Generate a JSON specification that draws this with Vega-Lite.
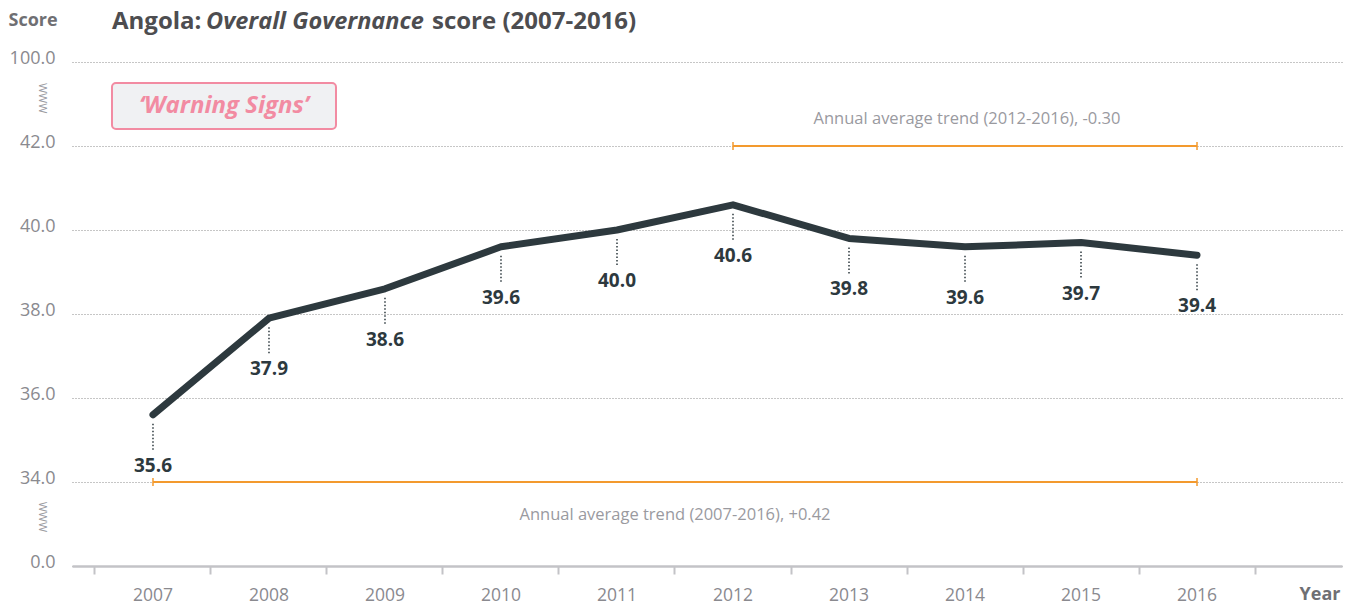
{
  "$schema": "https://vega.github.io/schema/vega-lite/v6.json",
  "width": 1270,
  "height": 504,
  "autosize": {"type": "none"},
  "padding": {"left": 72, "top": 62, "right": 12, "bottom": 39},
  "background": "white",
  "config": {"view": {"stroke": null}, "font": "Open Sans"},
  "datasets": {
    "scores": [
      {"year": "2007", "score": 35.6},
      {"year": "2008", "score": 37.9},
      {"year": "2009", "score": 38.6},
      {"year": "2010", "score": 39.6},
      {"year": "2011", "score": 40.0},
      {"year": "2012", "score": 40.6},
      {"year": "2013", "score": 39.8},
      {"year": "2014", "score": 39.6},
      {"year": "2015", "score": 39.7},
      {"year": "2016", "score": 39.4}
    ],
    "trends": [
      {"start": "2012", "end": "2016", "level": 42, "label": "Annual average trend (2012-2016), -0.30"},
      {"start": "2007", "end": "2016", "level": 34, "label": "Annual average trend (2007-2016), +0.42"}
    ]
  },
  "layer": [
    {
      "data": {"name": "trends"},
      "mark": {"type": "rule", "color": "#f39a2e", "strokeWidth": 2},
      "encoding": {
        "x": {"field": "start", "type": "ordinal"},
        "x2": {"field": "end"},
        "y": {"field": "level", "type": "quantitative"}
      }
    },
    {
      "data": {"name": "trends"},
      "transform": [{"fold": ["start", "end"], "as": ["side", "yr"]}],
      "mark": {"type": "rule", "color": "#f39a2e", "strokeWidth": 1.5, "yOffset": -4, "y2Offset": 4},
      "encoding": {
        "x": {"field": "yr", "type": "ordinal"},
        "y": {"field": "level", "type": "quantitative"},
        "y2": {"field": "level"}
      }
    },
    {
      "data": {"name": "scores"},
      "mark": {"type": "line", "color": "#2d393e", "strokeWidth": 7, "strokeCap": "round", "strokeJoin": "round"},
      "encoding": {
        "x": {
          "field": "year",
          "type": "ordinal",
          "scale": {
            "type": "band",
            "domain": ["2007", "2008", "2009", "2010", "2011", "2012", "2013", "2014", "2015", "2016"],
            "paddingInner": 0,
            "paddingOuter": 0.474,
            "align": 0.209
          },
          "axis": {
            "title": "Year",
            "titleFontSize": 18,
            "titleFontWeight": "bold",
            "titleColor": "#6f6f73",
            "titleX": 1268,
            "titleY": 28,
            "titleAlign": "right",
            "titleBaseline": "middle",
            "titleAnchor": null,
            "labelAngle": 0,
            "labelAlign": "center",
            "labelFontSize": 17.5,
            "labelColor": "#8a8a8f",
            "labelPadding": 21,
            "grid": false,
            "bandPosition": 1,
            "tickExtra": true,
            "tickSize": 8,
            "tickWidth": 2,
            "tickColor": "#c3c3c7",
            "domainColor": "#c3c3c7",
            "domainWidth": 2.5
          }
        },
        "y": {
          "field": "score",
          "type": "quantitative",
          "scale": {"domain": [32, 44], "nice": false, "zero": false},
          "axis": {
            "values": [32, 34, 36, 38, 40, 42, 44],
            "labelExpr": "datum.value == 32 ? '0.0' : datum.value == 44 ? '100.0' : format(datum.value, '.1f')",
            "grid": true,
            "gridDash": [1, 2],
            "gridColor": "#8d8d8d",
            "gridWidth": 1,
            "domain": false,
            "ticks": false,
            "labelPadding": 17,
            "labelOffset": -4,
            "labelFontSize": 18,
            "labelColor": "#8a8a8f",
            "title": "Score",
            "titleAngle": 0,
            "titleAlign": "left",
            "titleBaseline": "middle",
            "titleX": -64,
            "titleY": -42,
            "titleFontSize": 18,
            "titleFontWeight": "bold",
            "titleColor": "#6f6f73"
          }
        }
      }
    },
    {
      "data": {"name": "scores"},
      "mark": {"type": "rule", "color": "#2d393e", "strokeWidth": 1.5, "strokeDash": [1.5, 2], "yOffset": 9, "y2Offset": 35},
      "encoding": {
        "x": {"field": "year", "type": "ordinal"},
        "y": {"field": "score", "type": "quantitative"},
        "y2": {"field": "score"}
      }
    },
    {
      "data": {"name": "scores"},
      "mark": {"type": "text", "color": "#2d393e", "fontSize": 19, "fontWeight": "bold", "baseline": "middle", "dy": 51},
      "encoding": {
        "x": {"field": "year", "type": "ordinal"},
        "y": {"field": "score", "type": "quantitative"},
        "text": {"field": "score", "type": "quantitative", "format": ".1f"}
      }
    },
    {
      "data": {"name": "trends"},
      "transform": [{"filter": "datum.level == 42"}],
      "mark": {"type": "text", "color": "#9a9a9f", "fontSize": 16.5, "baseline": "middle", "dx": 2},
      "encoding": {
        "x": {"datum": "2014", "type": "ordinal"},
        "y": {"datum": 42.64, "type": "quantitative"},
        "text": {"field": "label"}
      }
    },
    {
      "data": {"name": "trends"},
      "transform": [{"filter": "datum.level == 34"}],
      "mark": {"type": "text", "color": "#9a9a9f", "fontSize": 16.5, "baseline": "middle", "dx": 58},
      "encoding": {
        "x": {"datum": "2011", "type": "ordinal"},
        "y": {"datum": 33.21, "type": "quantitative"},
        "text": {"field": "label"}
      }
    },
    {
      "data": {"values": [{"t": "badge"}]},
      "mark": {"type": "rect", "fill": "#f0f1f3", "stroke": "#f28ba2", "strokeWidth": 2, "cornerRadius": 4, "xOffset": -157, "x2Offset": 67},
      "encoding": {
        "x": {"datum": "2008", "type": "ordinal"},
        "x2": {"datum": "2008"},
        "y": {"datum": 43.5, "type": "quantitative"},
        "y2": {"datum": 42.405}
      }
    },
    {
      "data": {"values": [{"t": "‘Warning Signs’"}]},
      "mark": {"type": "text", "color": "#f28ba2", "fontSize": 24, "fontWeight": "bold", "fontStyle": "italic", "baseline": "middle", "dx": -45},
      "encoding": {
        "x": {"datum": "2008", "type": "ordinal"},
        "y": {"datum": 42.95, "type": "quantitative"},
        "text": {"field": "t"}
      }
    },
    {
      "data": {"values": [{"t": "Angola:"}]},
      "mark": {"type": "text", "color": "#4d4d50", "fontSize": 24, "fontWeight": "bold", "align": "left", "baseline": "middle", "dx": -41},
      "encoding": {
        "x": {"datum": "2007", "type": "ordinal"},
        "y": {"datum": 44.95, "type": "quantitative"},
        "text": {"field": "t"}
      }
    },
    {
      "data": {"values": [{"t": "Overall Governance"}]},
      "mark": {"type": "text", "color": "#4d4d50", "fontSize": 23.5, "fontWeight": "bold", "fontStyle": "italic", "align": "left", "baseline": "middle", "dx": 53},
      "encoding": {
        "x": {"datum": "2007", "type": "ordinal"},
        "y": {"datum": 44.95, "type": "quantitative"},
        "text": {"field": "t"}
      }
    },
    {
      "data": {"values": [{"t": "score (2007-2016)"}]},
      "mark": {"type": "text", "color": "#4d4d50", "fontSize": 24, "fontWeight": "bold", "align": "left", "baseline": "middle", "dx": 279},
      "encoding": {
        "x": {"datum": "2007", "type": "ordinal"},
        "y": {"datum": 44.95, "type": "quantitative"},
        "text": {"field": "t"}
      }
    },
    {
      "data": {"values": [{"b": 43.14}, {"b": 33.17}]},
      "mark": {"type": "text", "color": "#9a9a9f", "fontSize": 11, "angle": 90, "baseline": "middle", "align": "center", "dy": 111, "text": "WWW"},
      "encoding": {
        "x": {"datum": "2007", "type": "ordinal"},
        "y": {"field": "b", "type": "quantitative"}
      }
    }
  ]
}
